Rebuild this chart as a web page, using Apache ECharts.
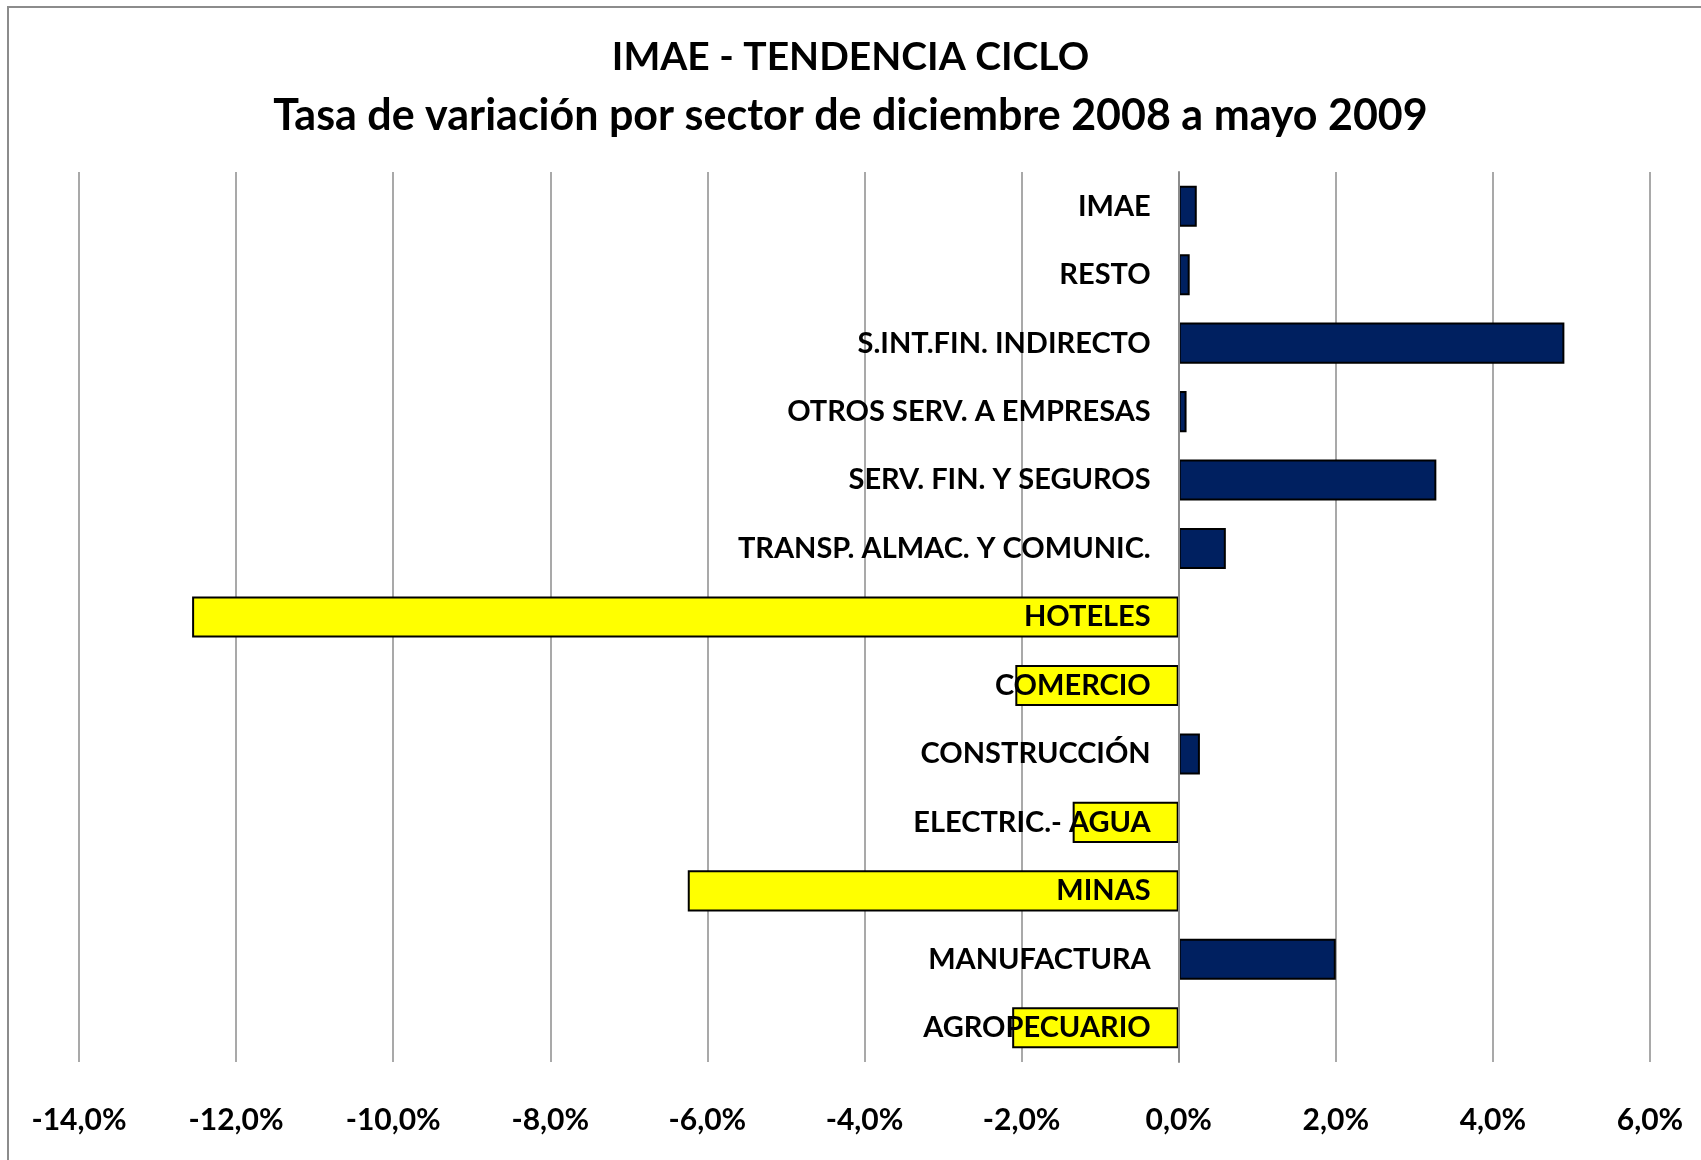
<html>
	<head>
		<meta charset="utf-8" />
		<title>IMAE - Tendencia ciclo</title>
		<script src="https://cdn.jsdelivr.net/npm/echarts@6/dist/echarts.min.js"></script>
		<style>
			html, body {
				margin: 0;
				padding: 0;
				background: white;
			}
			#chart {
				width: 1701px;
				height: 1160px;
			}
		</style>
	</head>

	<body>
		<div id="chart"></div>
		<script type="text/javascript">
			// sectores, de arriba hacia abajo
			var sectores = [
				'IMAE',
				'RESTO',
				'S.INT.FIN. INDIRECTO',
				'OTROS SERV. A EMPRESAS',
				'SERV. FIN. Y SEGUROS',
				'TRANSP. ALMAC. Y COMUNIC.',
				'HOTELES',
				'COMERCIO',
				'CONSTRUCCIÓN',
				'ELECTRIC.- AGUA',
				'MINAS',
				'MANUFACTURA',
				'AGROPECUARIO'
			];
			// tasa de variacion dic 2008 - may 2009 (%)
			var tasas = [0.23, 0.14, 4.91, 0.10, 3.28, 0.60, -12.56, -2.08, 0.27, -1.35, -6.25, 2.00, -2.12];
			var ejeMin = -14, ejeMax = 6, ejePaso = 2;

			var font = 'Lato';
			var gridLeft = 79, gridRight = 51;
			// el eje de categorias va sobre el 0%
			var anchoGrid = 1701 - gridLeft - gridRight;
			var xCero = anchoGrid * (0 - ejeMin) / (ejeMax - ejeMin);

			var myChart = echarts.init(document.getElementById('chart'));
			var option = {
				backgroundColor: '#ffffff',
				animation: false,
				title: {
					text: '{a|IMAE - TENDENCIA CICLO}\n{b|Tasa de variación por sector de diciembre 2008 a mayo 2009}',
					left: 'center',
					top: 23,
					padding: [5, 5, 5, 19],
					textStyle: {
						fontFamily: font,
						fontWeight: 'bold',
						color: '#000',
						rich: {
							a: { fontFamily: font, fontWeight: 'bold', fontSize: 39, lineHeight: 59, color: '#000' },
							b: { fontFamily: font, fontWeight: 'bold', fontSize: 43, lineHeight: 59, color: '#000' }
						}
					}
				},
				graphic: [{
					type: 'rect',
					shape: { x: 8, y: 7, width: 1760, height: 1240 },
					style: { fill: 'none', stroke: '#8c8c8c', lineWidth: 2 },
					silent: true
				}],
				grid: {
					left: gridLeft,
					right: gridRight,
					top: 172,
					bottom: 98,
					outerBoundsMode: 'none'
				},
				xAxis: {
					type: 'value',
					min: ejeMin,
					max: ejeMax,
					interval: ejePaso,
					axisLine: { show: false },
					axisTick: { show: false },
					splitLine: {
						lineStyle: { color: '#8c8c8c', width: 1.5 }
					},
					axisLabel: {
						margin: 42,
						fontFamily: font,
						fontWeight: 'bold',
						fontSize: 30,
						lineHeight: 32,
						color: '#000',
						formatter: function(v) {
							return v.toFixed(1).replace('.', ',') + '%';
						}
					}
				},
				yAxis: {
					type: 'category',
					data: sectores,
					inverse: true,
					z: 5,
					offset: -xCero,
					axisLine: {
						onZero: false,
						lineStyle: { color: '#8c8c8c', width: 2 }
					},
					axisTick: { show: false },
					axisLabel: {
						margin: 28,
						padding: [4, 0, 0, 0],
						fontFamily: font,
						fontWeight: 'bold',
						fontSize: 29,
						color: '#000'
					}
				},
				series: [{
					type: 'bar',
					data: tasas,
					barCategoryGap: '40%',
					itemStyle: {
						borderColor: '#000',
						borderWidth: 2,
						color: function(p) {
							return p.value < 0 ? '#ffff00' : '#002060';
						}
					}
				}]
			};
			myChart.setOption(option);
		</script>
	</body>

</html>
